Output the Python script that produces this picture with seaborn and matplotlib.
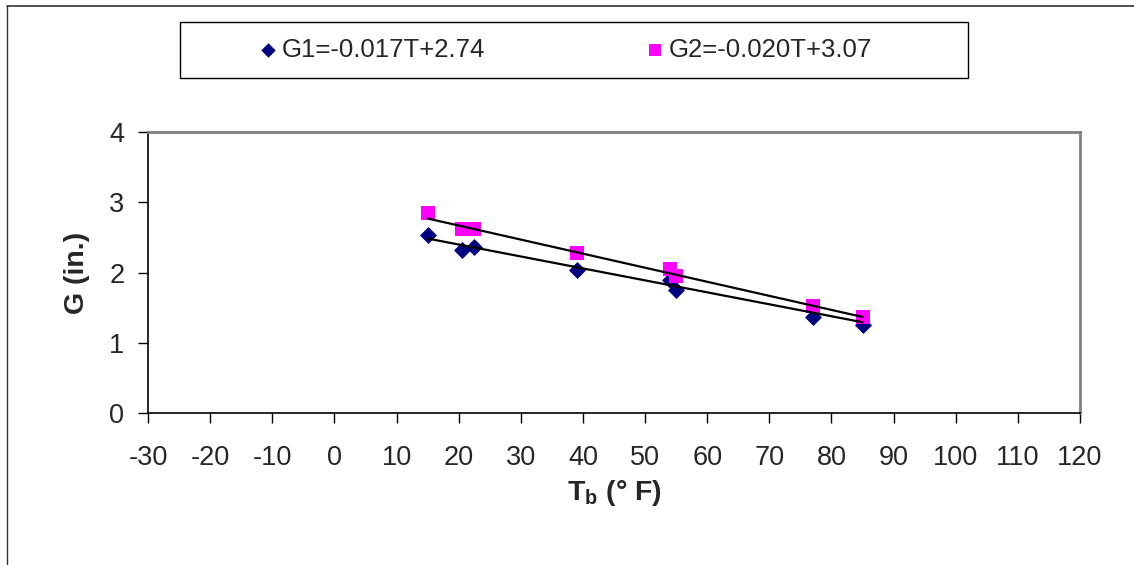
import numpy as np
import pandas as pd
import matplotlib
matplotlib.use("Agg")
import matplotlib.pyplot as plt
from matplotlib.patches import Rectangle
from matplotlib.lines import Line2D
import seaborn as sns

# data
temps = [15, 20.5, 22.5, 39, 54, 55, 77, 85]
g1 = [2.53, 2.32, 2.36, 2.04, 1.90, 1.76, 1.37, 1.26]
g2 = [2.85, 2.62, 2.62, 2.28, 2.05, 1.95, 1.53, 1.37]
labels = ["G1=-0.017T+2.74", "G2=-0.020T+3.07"]
slopes = [-0.017, -0.020]
intercepts = [2.74, 3.07]

sns.set_style("white")
plt.rcParams['font.family'] = ['Liberation Sans', 'DejaVu Sans']
plt.rcParams['axes.unicode_minus'] = False
plt.rcParams['mathtext.fontset'] = 'custom'
plt.rcParams['mathtext.bf'] = 'Liberation Sans:bold'
plt.rcParams['mathtext.rm'] = 'Liberation Sans:bold'

df = pd.DataFrame({'T': temps, 'G1': g1, 'G2': g2})

fig = plt.figure(figsize=(11.34, 5.65), dpi=100)
ax = fig.add_axes([0.1305, 0.2685, 0.8219, 0.4979])

sns.scatterplot(data=df, x='T', y='G1', marker='D', s=75, color='#000080',
                linewidth=0, ax=ax, zorder=3, label=labels[0])
sns.scatterplot(data=df, x='T', y='G2', marker='s', s=92, color='#FF00FF',
                linewidth=0, ax=ax, zorder=4, label=labels[1])

# trend lines from the fitted equations
tline = np.array([min(temps), max(temps)])
for m, b in zip(slopes, intercepts):
    ax.plot(tline, m * tline + b, color='black', lw=1.6, zorder=5)

ax.set_xlim(-30, 120)
ax.set_ylim(0, 4)
ax.set_xticks(np.arange(-30, 121, 10))
ax.set_yticks(np.arange(0, 5, 1))
ax.tick_params(axis='both', labelsize=19.5, direction='out', length=7, width=1,
               color='black', left=True, bottom=True)
ax.tick_params(axis='x', pad=16)
ax.tick_params(axis='y', pad=10)

for side in ['left', 'bottom']:
    ax.spines[side].set_color('black')
    ax.spines[side].set_linewidth(1.2)
for side in ['top', 'right']:
    ax.spines[side].set_color('#808080')
    ax.spines[side].set_linewidth(2)

ax.set_xlabel(r'$\mathbf{T_b}$ (° F)', fontsize=20.5, fontweight='bold', labelpad=5)
ax.set_ylabel('G (in.)', fontsize=20.5, fontweight='bold', labelpad=14)

# legend box
handles, _ = ax.get_legend_handles_labels()
ax.legend_.remove()
fig.patches.append(Rectangle((180 / 1134, 1 - 78 / 565), 788 / 1134, 56 / 565,
                             transform=fig.transFigure, fill=False,
                             edgecolor='black', lw=1))
fig.legend(handles, labels, loc='center', bbox_to_anchor=(565 / 1134, 1 - 50 / 565),
           ncol=2, frameon=False, fontsize=18.5, handlelength=0.8,
           handletextpad=0.15, columnspacing=6.2, markerscale=0.85)

# outer chart frame
fig.add_artist(Line2D([7 / 1134, 7 / 1134], [0, 1 - 6 / 565], transform=fig.transFigure,
                      color='#333333', lw=1))
fig.add_artist(Line2D([7 / 1134, 1], [1 - 6 / 565, 1 - 6 / 565], transform=fig.transFigure,
                      color='#333333', lw=1.2))

fig.savefig('out.png', dpi=100)
